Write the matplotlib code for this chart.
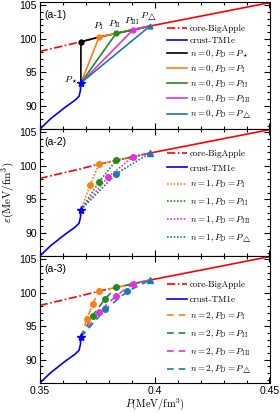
import matplotlib
matplotlib.use("Agg")
import matplotlib.pyplot as plt
from matplotlib.ticker import MultipleLocator, FixedLocator
from matplotlib.font_manager import FontProperties

plt.rcParams['mathtext.fontset'] = 'cm'
plt.rcParams['font.family'] = ['Liberation Sans', 'DejaVu Sans']

# ---- data ----
core_P = [0.35, 0.3680, 0.3759, 0.3833, 0.3907, 0.3980]
core_E = [98.1, 99.55, 100.25, 100.8, 101.35, 101.9]
core_P_hi = [0.3980, 0.45]
core_E_hi = [101.9, 105.4]

crust_P = [0.3499, 0.3546, 0.3611, 0.3654, 0.3672, 0.3678, 0.3680]
crust_E = [86.4, 87.97, 89.74, 90.8, 91.4, 92.3, 93.4]

P_star = (0.3680, 93.4)
PD_names = ['I', 'II', 'III', 'tri']
PD_idx = [2, 3, 4, 5]   # index in core arrays

# n=1 intermediate points (P, eps)
n1_mid = {
    'I':   ([0.3720], [97.1]),
    'II':  ([0.3759], [97.6]),
    'III': ([0.3797], [98.3]),
    'tri': ([0.3833], [98.8]),
}
# n=2 intermediate points
n2_mid = {
    'I':   ([0.3707, 0.3731], [96.1, 98.3]),
    'II':  ([0.3731, 0.3783], [96.6, 99.0]),
    'III': ([0.3759, 0.3833], [97.1, 99.55]),
    'tri': ([0.3786, 0.3882], [97.5, 100.2]),
}

colors = {'star': 'black', 'I': '#ff7f0e', 'II': '#228B22', 'III': '#e033e0', 'tri': '#1f77b4'}
sub = {'star': r'\star', 'I': r'{\rm I}', 'II': r'{\rm II}', 'III': r'{\rm III}', 'tri': r'\triangle'}

fig = plt.figure(figsize=(2.8, 4.13), dpi=100)
H = 127 / 413
bottoms = [0.0726 + 2 * H, 0.0726 + H, 0.0726]
axes = [fig.add_axes([39.5 / 280, b, 230 / 280, H]) for b in bottoms]

legfont = FontProperties(family='cmr10', size=6.5)


def base(ax):
    ax.plot(core_P, core_E, color='red', ls=(0, (5, 1.5, 1, 1.5)), lw=1.2, label='core-BigApple', zorder=2)
    ax.plot(core_P_hi, core_E_hi, color='red', lw=1.2, zorder=2)
    ax.plot(crust_P, crust_E, color='blue', lw=1.2, label='crust-TM1e', zorder=3)


def style(ax, label, bottom_labels):
    ax.set_xlim(0.35, 0.45)
    ax.set_ylim(86.5, 105.5)
    ax.xaxis.set_major_locator(FixedLocator([0.35, 0.40, 0.45]))
    ax.xaxis.set_minor_locator(MultipleLocator(0.01))
    ax.yaxis.set_major_locator(FixedLocator([90, 95, 100, 105]))
    ax.yaxis.set_minor_locator(MultipleLocator(1))
    ax.tick_params(which='both', direction='in', top=True, right=True, labelsize=7.5, width=0.8, pad=2)
    ax.tick_params(which='major', length=4)
    ax.tick_params(which='minor', length=2)
    ax.set_yticklabels(['90', '95', '100', '105'])
    if bottom_labels:
        ax.set_xticklabels(['0.35', '0.4', '0.45'])
    else:
        ax.set_xticklabels([])
    for s in ax.spines.values():
        s.set_linewidth(0.8)
    ax.text(0.022, 0.895, label, transform=ax.transAxes, fontsize=7.5, va='center', ha='left')


# ---- panel 1: n=0 ----
ax = axes[0]
base(ax)
i0 = 1
Px = [P_star[0], core_P[i0]] + core_P[i0 + 1:]
Ey = [P_star[1], core_E[i0]] + core_E[i0 + 1:]
ax.plot(Px, Ey, color='black', lw=1.2, label=r'$n=0, P_D=P_\star$', zorder=4)
ax.plot([core_P[i0]], [core_E[i0]], 'o', color='black', ms=3.5, zorder=5)
for name, idx in zip(PD_names, PD_idx):
    Px = [P_star[0]] + core_P[idx:]
    Ey = [P_star[1]] + core_E[idx:]
    ax.plot(Px, Ey, color=colors[name], lw=1.2, label=r'$n=0, P_D=P_%s$' % sub[name], zorder=4)
    ax.plot([core_P[idx]], [core_E[idx]], '^' if name == 'tri' else 'o', color=colors[name], ms=3.5, zorder=5)
ax.plot([P_star[0]], [P_star[1]], '*', color='blue', ms=6, zorder=6)
ax.text(0.3637, 93.8, r'$P_\star$', fontsize=7, ha='center', va='center')
ax.text(0.3757, 101.9, r'$P_{\rm I}$', fontsize=7, ha='center', va='center')
ax.text(0.3828, 102.2, r'$P_{\rm II}$', fontsize=7, ha='center', va='center')
ax.text(0.3901, 102.6, r'$P_{\rm III}$', fontsize=7, ha='center', va='center')
ax.text(0.3972, 103.4, r'$P_\triangle$', fontsize=7, ha='center', va='center')
style(ax, '(a-1)', False)
ax.legend(loc='lower right', bbox_to_anchor=(0.955, 0.005), frameon=False, prop=legfont,
          handlelength=2.2, handletextpad=0.3, labelspacing=0.4, borderpad=0.3)

# ---- panel 2 and 3 ----
for ax, n, mids, ls, lab, yb in [(axes[1], 1, n1_mid, (0, (1, 1)), '(a-2)', 0.03),
                                 (axes[2], 2, n2_mid, (0, (4, 3)), '(a-3)', -0.005)]:
    base(ax)
    for name, idx in zip(PD_names, PD_idx):
        mP, mE = mids[name]
        Px = [P_star[0]] + mP + core_P[idx:]
        Ey = [P_star[1]] + mE + core_E[idx:]
        ax.plot(Px, Ey, color=colors[name], lw=1.2, ls=ls, label=r'$n=%d, P_D=P_%s$' % (n, sub[name]), zorder=4)
        ax.plot(mP, mE, 'o', color=colors[name], ms=4, zorder=5)
        ax.plot([core_P[idx]], [core_E[idx]], '^' if name == 'tri' else 'o', color=colors[name], ms=4, zorder=5)
    ax.plot([P_star[0]], [P_star[1]], '*', color='blue', ms=6, zorder=6)
    style(ax, lab, n == 2)
    ax.legend(loc='lower right', bbox_to_anchor=(0.955, yb), frameon=False, prop=legfont,
              handlelength=2.2, handletextpad=0.3, labelspacing=0.7, borderpad=0.3)

axes[1].set_ylabel(r'$\varepsilon({\rm MeV/fm^3})$', fontsize=8, labelpad=2)
axes[2].set_xlabel(r'$P({\rm MeV/fm^3})$', fontsize=7.5, labelpad=0)

fig.savefig('out.png', dpi=100)
